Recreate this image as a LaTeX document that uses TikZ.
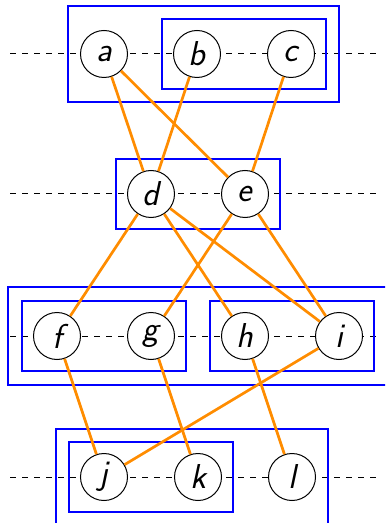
\documentclass[tikz,border=0pt]{standalone}
\definecolor{tieOrange}{RGB}{255,140,0}
\usepackage{tikz}
\usetikzlibrary{fit, backgrounds}

\begin{document}
\begin{tikzpicture}[x=0.5pt, y=-0.5pt,
  vertex/.style={circle, draw, fill=white, line width=0.5pt,
    minimum size=23.5pt, inner sep=0pt, font=\LARGE\sffamily\itshape},
  tie/.style={draw=tieOrange, line width=1.35pt},
  group/.style={draw=blue, line width=0.8pt, inner sep=5.5pt},
  outergroup/.style={group, inner sep=6pt},
  rail/.style={dashed, line width=0.5pt}]
  \clip (0,0) rectangle (385,523);
  % vertices, one row per level
  \node[vertex] (a) at (104,54) {a};
  \node[vertex] (b) at (197,54) {b};
  \node[vertex] (c) at (291,54) {c};
  \node[vertex] (d) at (151,194) {d};
  \node[vertex] (e) at (245,194) {e};
  \node[vertex] (f) at (57,336) {f};
  \node[vertex] (g) at (151,336) {g};
  \node[vertex] (h) at (245,336) {h};
  \node[vertex] (i) at (339,336) {i};
  \node[vertex] (j) at (104,477) {j};
  \node[vertex] (k) at (198,477) {k};
  \node[vertex] (l) at (292,477) {l};
  % groups
  \node[group, fit=(b)(c)] (bc) {};
  \node[outergroup, fit=(a)(bc)] (abc) {};
  \node[group, fit=(d)(e)] (de) {};
  \node[group, fit=(f)(g)] (fg) {};
  \node[group, fit=(h)(i)] (hi) {};
  \node[outergroup, inner sep=6.6pt, fit=(fg)(hi)] (fghi) {};
  \node[group, fit=(j)(k)] (jk) {};
  \node[outergroup, fit=(jk)(l)] (jkl) {};
  % levels
  \begin{scope}[on background layer]
    \foreach \y in {54,194,336,477}
      \draw[rail] (10,\y) -- (380,\y);
  \end{scope}
  % ties between levels
  \draw[tie] (a) -- (d);
  \draw[tie] (a) -- (e);
  \draw[tie] (b) -- (d);
  \draw[tie] (c) -- (e);
  \draw[tie] (d) -- (f);
  \draw[tie] (d) -- (h);
  \draw[tie] (d) -- (i);
  \draw[tie] (e) -- (g);
  \draw[tie] (e) -- (i);
  \draw[tie] (f) -- (j);
  \draw[tie] (g) -- (k);
  \draw[tie] (h) -- (l);
  \draw[tie] (i) -- (j);
\end{tikzpicture}
\end{document}
